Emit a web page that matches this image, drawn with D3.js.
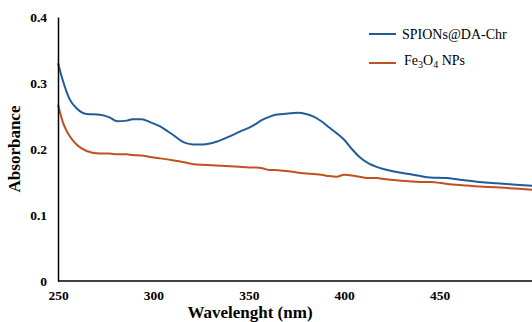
<!DOCTYPE html>
<meta charset="utf-8">
<style>
body{margin:0;background:#fff;}
text{font-family:"Liberation Serif","Times New Roman",serif;}
.tick text{font-weight:bold;font-size:13.5px;}
</style>
<body>
<script src="https://d3js.org/d3.v7.min.js"></script>
<script>
// wavelength (nm) and absorbance
var wavelength = [250,252.6,256,260,265,272,277,281,286,289,294,298,303,310,316,321,326,333,340,345,352,357,361,364,368,372,376,380,384,388,392,396,400,404,408,413,417,420,426,434,440,445,454,462,471,480,490,500];
var spions     = [0.330,0.303,0.276,0.261,0.253,0.252,0.248,0.242,0.243,0.245,0.245,0.241,0.235,0.222,0.210,0.207,0.207,0.211,0.219,0.226,0.235,0.244,0.249,0.252,0.253,0.254,0.255,0.253,0.249,0.242,0.233,0.224,0.214,0.200,0.188,0.178,0.173,0.170,0.166,0.162,0.159,0.157,0.156,0.153,0.150,0.148,0.146,0.144];
var fe3o4      = [0.267,0.240,0.220,0.206,0.197,0.193,0.193,0.192,0.192,0.191,0.190,0.188,0.186,0.183,0.180,0.177,0.176,0.175,0.174,0.173,0.172,0.171,0.168,0.168,0.167,0.166,0.164,0.163,0.162,0.161,0.159,0.158,0.161,0.160,0.158,0.156,0.156,0.155,0.153,0.151,0.150,0.150,0.147,0.145,0.143,0.142,0.140,0.138];
var seriesNames = ["SPIONs@DA-Chr","Fe3O4 NPs"];
var colors = ["#1f5c99","#c0501f"];
var xTicks = [250,300,350,400,450];
var yTicks = [0,0.1,0.2,0.3,0.4];

var W = 532, H = 322;
var m = {left:58, top:17, right:0, bottom:41};

var svg = d3.select("body").append("svg").attr("width",W).attr("height",H);

var x = d3.scaleLinear().domain([250,500]).range([m.left, m.left+477]);
var y = d3.scaleLinear().domain([0,0.4]).range([H-m.bottom, m.top]);

var line = d3.line()
  .x(function(d){return x(d[0]);})
  .y(function(d){return y(d[1]);})
  .curve(d3.curveMonotoneX);

[spions, fe3o4].forEach(function(s,i){
  svg.append("path")
    .datum(wavelength.map(function(w,j){return [w,s[j]];}))
    .attr("fill","none")
    .attr("stroke",colors[i])
    .attr("stroke-width",2)
    .attr("d",line);
});

// axes
var xAxis = svg.append("g").attr("transform","translate(0,"+y(0)+")")
  .call(d3.axisBottom(x).tickValues(xTicks).tickSize(0).tickPadding(9).tickFormat(d3.format("d")));
xAxis.select(".domain").attr("stroke","#000").attr("stroke-width",1.5).attr("d","M"+m.left+",0H"+W);

var yAxis = svg.append("g").attr("transform","translate("+m.left+",0)")
  .call(d3.axisLeft(y).tickValues(yTicks).tickSize(0).tickPadding(11).tickFormat(function(d){return d===0?"0":d3.format(".1f")(d);}));
yAxis.select(".domain").attr("stroke","#000").attr("stroke-width",1.5);
svg.selectAll(".tick text").attr("fill","#000");

// axis titles
svg.append("text").attr("x",250).attr("y",318).attr("text-anchor","middle")
  .style("font-weight","bold").style("font-size","17px").text("Wavelenght (nm)");
svg.append("text").attr("transform","translate(20,149) rotate(-90)").attr("text-anchor","middle")
  .style("font-weight","bold").style("font-size","17px").text("Absorbance");

// legend
var leg = svg.append("g");
[34,63].forEach(function(ly,i){
  leg.append("line").attr("x1",369).attr("x2",396).attr("y1",ly).attr("y2",ly)
    .attr("stroke",colors[i]).attr("stroke-width",2);
});
leg.append("text").attr("x",402).attr("y",39).style("font-size","14px").text(seriesNames[0]);
var t2 = leg.append("text").attr("x",404).attr("y",65).style("font-size","14px");
t2.append("tspan").text("Fe");
t2.append("tspan").attr("dy",3).style("font-size","10px").text("3");
t2.append("tspan").attr("dy",-3).text("O");
t2.append("tspan").attr("dy",3).style("font-size","10px").text("4");
t2.append("tspan").attr("dy",-3).text(" NPs");
</script>
</body>
